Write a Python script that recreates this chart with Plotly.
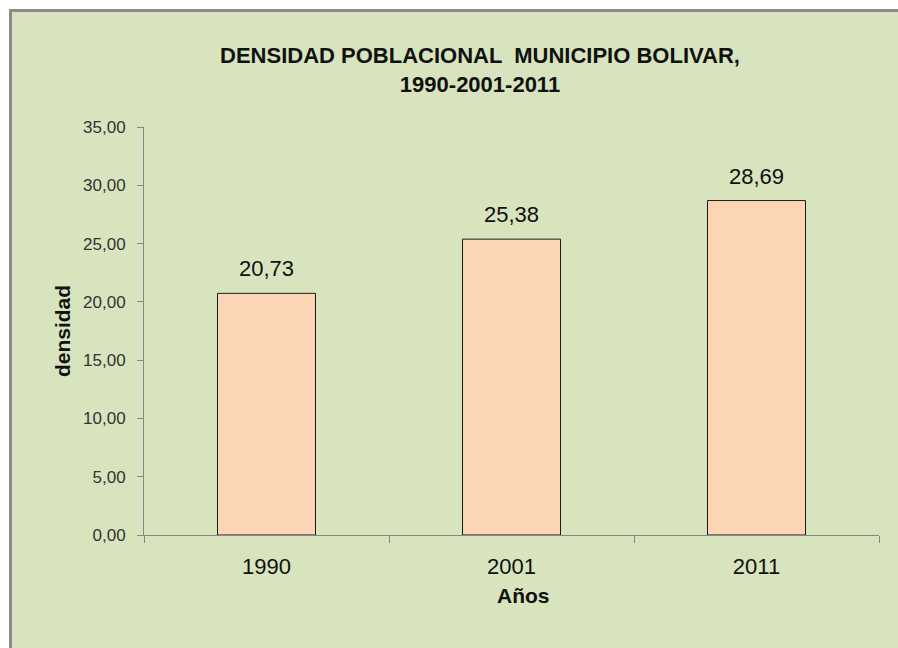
import plotly.graph_objects as go

categories = ["1990", "2001", "2011"]
densidad = [20.73, 25.38, 28.69]
y_ticks = [0, 5, 10, 15, 20, 25, 30, 35]

FONT = "Liberation Sans, Arial, sans-serif"
GREEN = "#D7E4BD"
PEACH = "#FCD5B5"
AXIS = "#868686"
BORDER = "#8C8C8C"

W, H = 898, 648
L, R, T, B = 144, 19, 127, 113
pw, ph = W - L - R, H - T - B

def px_x(x):
    return (x - L) / pw

def px_y(y):
    return (H - B - y) / ph

fig = go.Figure()
fig.add_trace(go.Bar(
    x=categories, y=densidad, width=0.4,
    marker=dict(color=PEACH, line=dict(color="#1a1a1a", width=1)),
    hoverinfo="x+y",
))

annotations = []
for i, v in enumerate(densidad):
    annotations.append(dict(
        x=i, y=v, xref="x", yref="y", text=f"{v:.2f}".replace(".", ","),
        showarrow=False, yanchor="bottom", yshift=10,
        font=dict(family=FONT, size=22, color="#111"),
    ))
annotations.append(dict(
    x=px_x(523), y=px_y(595), xref="paper", yref="paper", text="<b>Años</b>",
    showarrow=False, xanchor="center", yanchor="middle",
    font=dict(family=FONT, size=21, color="#111"),
))

shapes = [
    dict(type="rect", xref="paper", yref="paper", layer="below",
         x0=px_x(10), x1=px_x(W + 40), y0=px_y(H + 40), y1=px_y(10),
         fillcolor=GREEN, line=dict(width=0)),
    dict(type="line", xref="paper", yref="paper", layer="below",
         x0=px_x(9), x1=px_x(W + 40), y0=px_y(10.5), y1=px_y(10.5),
         line=dict(color=BORDER, width=3)),
    dict(type="line", xref="paper", yref="paper", layer="below",
         x0=px_x(10.5), x1=px_x(10.5), y0=px_y(9), y1=px_y(H + 40),
         line=dict(color=BORDER, width=3)),
]

fig.update_layout(
    width=W, height=H,
    margin=dict(l=L, r=R, t=T, b=B, pad=0),
    paper_bgcolor="white", plot_bgcolor="rgba(0,0,0,0)",
    separators=",.",
    showlegend=False,
    title=dict(
        text="<b>DENSIDAD POBLACIONAL  MUNICIPIO BOLIVAR,<br>1990-2001-2011</b>",
        x=480 / W, xref="container", xanchor="center",
        y=1 - 63 / H, yref="container", yanchor="top",
        font=dict(family=FONT, size=22, color="#111"),
    ),
    xaxis=dict(
        type="category", range=[-0.5, len(categories) - 0.5],
        showgrid=False, showline=True, linecolor=AXIS, linewidth=1,
        ticks="outside", tickson="boundaries", ticklen=7, tickcolor=AXIS, tickwidth=1,
        tickfont=dict(family=FONT, size=22, color="#111"),
        ticklabelstandoff=12,
        zeroline=False,
    ),
    yaxis=dict(
        range=[0, 35], tickvals=y_ticks, tickformat=".2f",
        showgrid=False, showline=True, linecolor=AXIS, linewidth=1,
        ticks="outside", ticklen=6, tickcolor=AXIS, tickwidth=1,
        tickfont=dict(family=FONT, size=17, color="#333"),
        ticklabelstandoff=8,
        zeroline=False,
        title=dict(text="<b>densidad</b>", standoff=6,
                   font=dict(family=FONT, size=21, color="#111")),
    ),
    annotations=annotations,
    shapes=shapes,
)

fig.write_html(
    "out.html", config={"displayModeBar": False},
    post_script=("document.body.style.margin='0';"
                 "document.body.style.overflow='hidden';"
                 "document.documentElement.style.overflow='hidden';"),
)
